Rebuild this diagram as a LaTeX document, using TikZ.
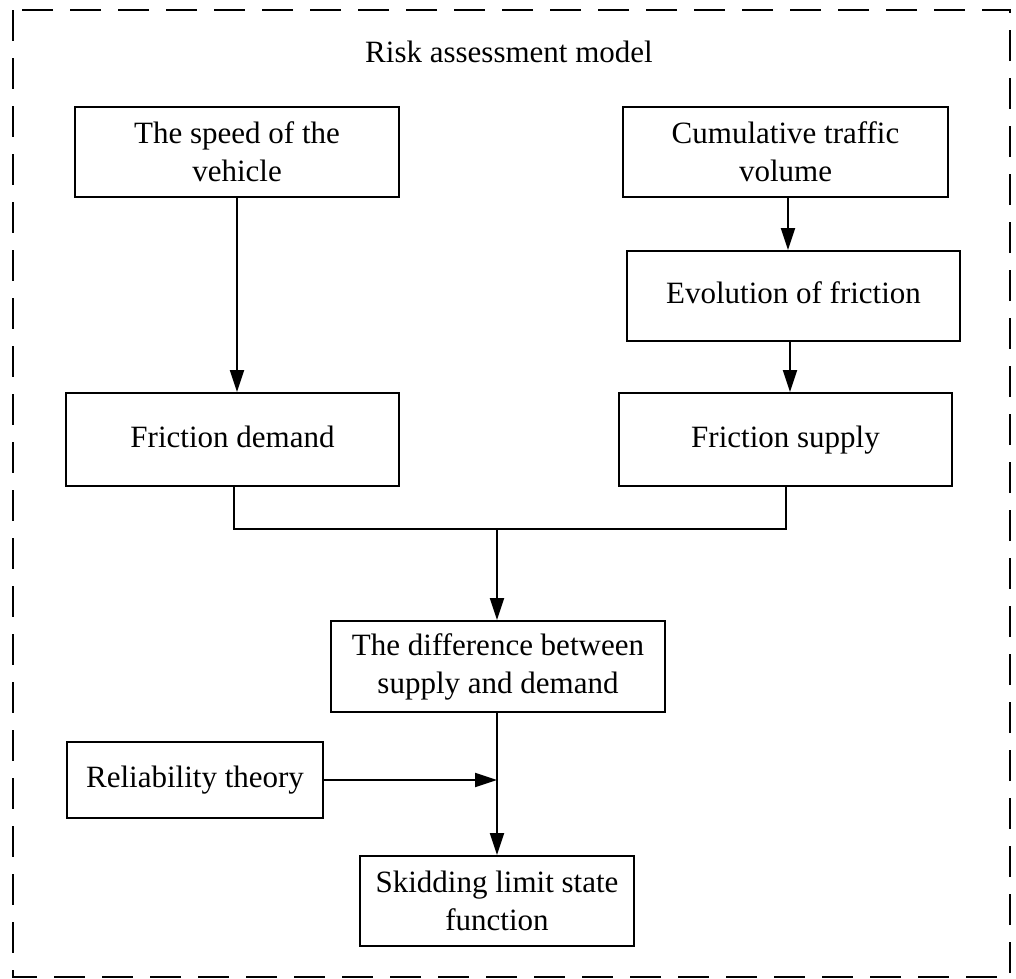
\documentclass[tikz,border=0pt]{standalone}
\usepackage{fontspec}
\setmainfont{Liberation Serif}
\usetikzlibrary{arrows.meta}
\begin{document}
\begin{tikzpicture}[x=1pt,y=-1pt,
  box/.style={draw,line width=2pt,align=center,inner sep=0pt,
    font=\rmfamily\fontsize{31}{38}\selectfont},
  arr/.style={line width=2pt,-{Triangle[length=22pt,width=14pt]}},
  ln/.style={line width=2pt}]
\useasboundingbox (0,0) rectangle (1016,978);
\draw[line width=2.2pt,dash pattern=on 31pt off 17pt] (13,10) rectangle (1010,977);
\node[anchor=base,font=\rmfamily\fontsize{31}{38}\selectfont] (title) at (509,62) {Risk assessment model};
\node[box,minimum width=324pt,minimum height=90pt] (speed) at (237,152) {The speed of the\\vehicle};
\node[box,minimum width=325pt,minimum height=90pt] (cum) at (785.5,152) {Cumulative traffic\\volume};
\node[box,minimum width=333pt,minimum height=90pt] (evo) at (793.5,296) {\strut Evolution of friction};
\node[box,minimum width=333pt,minimum height=93pt] (demand) at (232.5,439.5) {\strut Friction demand};
\node[box,minimum width=333pt,minimum height=93pt] (supply) at (785.5,439.5) {\strut Friction supply};
\node[box,minimum width=334pt,minimum height=91pt] (diff) at (498,666.5) {The difference between\\supply and demand};
\node[box,minimum width=256pt,minimum height=76pt] (rel) at (195,780) {\strut Reliability theory};
\node[box,minimum width=274pt,minimum height=90pt] (skid) at (497,901) {Skidding limit state\\function};
\coordinate (jr) at (786,529);
\coordinate (jm) at (497,529);
\draw[arr] (speed.south) -- (speed.south |- demand.north);
\draw[arr] ([xshift=2.5pt]cum.south) -- ([xshift=2.5pt]cum.south |- evo.north);
\draw[arr] ([xshift=-3.5pt]evo.south) -- ([xshift=-3.5pt]evo.south |- supply.north);
\draw[ln] ([xshift=1pt]demand.south) |- (jr) -- (supply.south -| jr);
\draw[arr] (jm) -- (jm |- diff.north);
\draw[arr] (jm |- diff.south) -- (jm |- skid.north);
\draw[arr] (rel.east) -- (jm |- rel.east);
\end{tikzpicture}
\end{document}
